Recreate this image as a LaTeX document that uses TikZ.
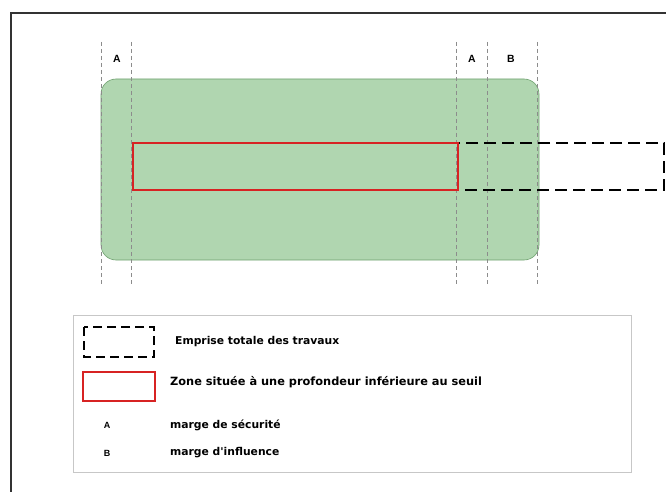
\documentclass[tikz,border=0pt]{standalone}
\usepackage{fontspec}
\setmainfont{Liberation Sans}
\newfontfamily\legfont{DejaVu Sans}
\definecolor{zonegreen}{RGB}{176,214,176}
\definecolor{zoneedge}{RGB}{110,160,110}
\definecolor{zonered}{RGB}{215,35,35}
\begin{document}
\begin{tikzpicture}[x=1bp,y=-1bp,
  guide/.style={draw=black!45,line width=0.7bp,dash pattern=on 4bp off 3bp},
  redzone/.style={draw=zonered,line width=2.4bp},
  works/.style={draw=black,line width=2.6bp,dash pattern=on 12bp off 6bp},
  lbl/.style={font=\fontsize{10.5}{12}\selectfont\bfseries,inner sep=0pt},
  legtxt/.style={font=\legfont\fontsize{10.8}{12}\selectfont\bfseries,anchor=west,inner sep=0pt},
  legsmall/.style={font=\fontsize{9}{10}\selectfont\bfseries,inner sep=0pt}]
\useasboundingbox (0,0) rectangle (666,492);
% outer frame (left and top visible)
\draw[line width=2bp,black!80] (11,492) -- (11,13) -- (666,13);
% green zone
\fill[zonegreen, draw=zoneedge, line width=0.6bp, rounded corners=15bp]
  (101,79) rectangle (539,260);
% guide lines
\foreach \gx/\gn in {101/g1,131/g2,456/g3,487/g4,537/g5}{
  \coordinate (\gn t) at (\gx,42);
  \coordinate (\gn b) at (\gx,287);
  \draw[guide] (\gn t) -- (\gn b);
}
\node[lbl] (la1) at (117,59) {A};
\node[lbl] (la2) at (472,59) {A};
\node[lbl] (lb) at (511,59) {B};
% works and zone
\coordinate (w1) at (458,143);
\coordinate (w2) at (664,190);
\draw[works] (w1) rectangle (w2);
\coordinate (r1) at (133,143);
\coordinate (r2) at (458,190);
\draw[redzone] (r1) rectangle (r2);
% legend
\draw[black!22,line width=1bp] (73,315) rectangle (631,472);
\draw[works,line width=2.2bp,dash pattern=on 9bp off 5bp] (84,327) rectangle (154,357);
\draw[redzone,line width=2bp] (83,372) rectangle (155,401);
\node[legtxt] (t1) at (175,342) {Emprise totale des travaux};
\node[legtxt,font=\legfont\fontsize{11.4}{13}\selectfont\bfseries] (t2) at (170,382) {Zone située à une profondeur inférieure au seuil};
\node[legsmall] (ka) at (107,425) {A};
\node[legtxt] (t3) at (170,425) {marge de sécurité};
\node[legsmall] (kb) at (107,453) {B};
\node[legtxt] (t4) at (170,453) {marge d'influence};
\end{tikzpicture}
\end{document}
